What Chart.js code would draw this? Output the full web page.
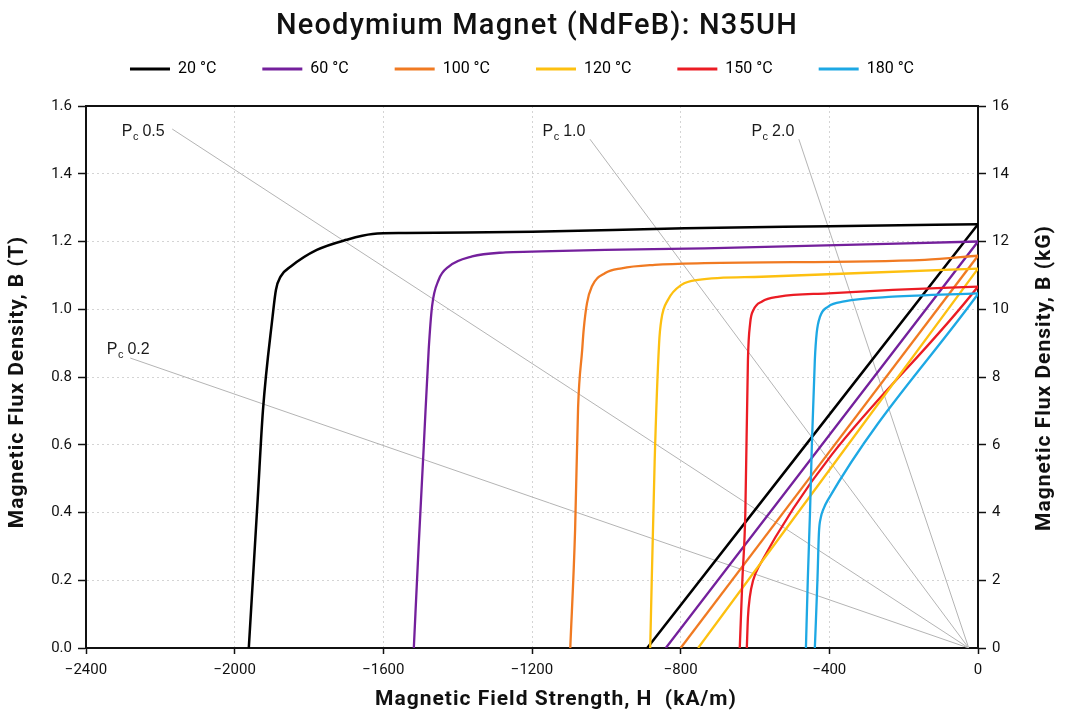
<!DOCTYPE html>
<html>
<head>
<meta charset="utf-8">
<script src="https://cdn.jsdelivr.net/npm/chart.js@4.4.0/dist/chart.umd.min.js"></script>
<style>
  html, body { margin: 0; padding: 0; background: #fff; }
  #wrap { position: relative; width: 1074px; height: 719px; }
</style>
</head>
<body>
<div id="wrap"><canvas id="chart"></canvas></div>
<script>
// N35UH demagnetization curves
// H in kA/m, B in T, points as [H, B]
const temps = ['20 °C', '60 °C', '100 °C', '120 °C', '150 °C', '180 °C'];
const colors = ['#000000', '#74209c', '#f07a22', '#fdc010', '#eb1c24', '#1da8e4'];

// intrinsic curves (flat top, sharp knee)
const j20 = [[0, 1.251], [-400, 1.245], [-789, 1.239], [-1200, 1.229], [-1540, 1.225], [-1629, 1.222], [-1699, 1.205], [-1779, 1.175], [-1849, 1.126], [-1876, 1.097], [-1889, 1.057], [-1898, 0.978], [-1924, 0.70], [-1938, 0.44], [-1962, 0]];
const j60 = [[0, 1.2], [-736, 1.18], [-1003, 1.175], [-1200, 1.17], [-1271, 1.168], [-1361, 1.156], [-1424, 1.126], [-1451, 1.087], [-1469, 1.008], [-1478, 0.88], [-1491, 0.6], [-1505, 0.3], [-1518, 0]];
const j100 = [[0, 1.158], [-143, 1.146], [-736, 1.136], [-870, 1.131], [-959, 1.121], [-1003, 1.107], [-1039, 1.067], [-1052, 1.018], [-1061, 0.939], [-1065, 0.88], [-1076, 0.71], [-1084, 0.35], [-1097, 0]];
const j120 = [[0, 1.12], [-315, 1.107], [-582, 1.096], [-753, 1.087], [-798, 1.072], [-834, 1.028], [-852, 0.969], [-858, 0.9], [-870, 0.55], [-882, 0]];
const j150 = [[0, 1.067], [-229, 1.057], [-403, 1.047], [-535, 1.037], [-581, 1.023], [-604, 0.998], [-613, 0.959], [-619, 0.851], [-626, 0.4], [-634, 0.2], [-641, 0]];
const j180 = [[0, 1.047], [-229, 1.037], [-360, 1.023], [-403, 1.008], [-425, 0.978], [-434, 0.93], [-439, 0.85], [-447, 0.6], [-452, 0.4], [-458, 0.2], [-463, 0]];

// normal curves (straight recoil lines)
const b20 = [[0, 1.251], [-890, 0]];
const b60 = [[0, 1.2], [-840, 0]];
const b100 = [[0, 1.158], [-800, 0]];
const b120 = [[0, 1.12], [-753, 0]];
const b150 = [[0, 1.067], [-590, 0.24], [-605, 0.2], [-614, 0.15], [-619, 0.09], [-622, 0]];
const b180 = [[0, 1.045], [-405, 0.435], [-416, 0.41], [-423, 0.385], [-428, 0.34], [-432, 0.2], [-439, 0]];

// permeance coefficient load lines
const pcValues = ['0.2', '0.5', '1.0', '2.0'];
const pcStart = [[-2281, 0.856], [-2168, 1.532], [-1044, 1.502], [-482, 1.502]];
const pcOrigin = [-25, 0];

// axis ticks
const hTicks = [-2400, -2000, -1600, -1200, -800, -400, 0];
const bTicks = [0, 0.2, 0.4, 0.6, 0.8, 1.0, 1.2, 1.4, 1.6];
const kgTicks = [0, 2, 4, 6, 8, 10, 12, 14, 16];

const intrinsic = [j20, j60, j100, j120, j150, j180];
const normal = [b20, b60, b100, b120, b150, b180];

const toXY = pts => pts.map(p => ({ x: p[0], y: p[1] }));

const datasets = [];
intrinsic.forEach((pts, i) => {
  datasets.push({
    label: temps[i],
    data: toXY(pts),
    borderColor: colors[i],
    backgroundColor: colors[i],
    borderWidth: i === 0 ? 2.5 : 2.3,
    cubicInterpolationMode: 'monotone',
    order: 1
  });
});
normal.forEach((pts, i) => {
  datasets.push({
    label: temps[i] + ' B',
    data: toXY(pts),
    borderColor: colors[i],
    backgroundColor: colors[i],
    borderWidth: i === 0 ? 2.5 : 2.3,
    cubicInterpolationMode: 'monotone',
    order: 1
  });
});
pcStart.forEach((p, i) => {
  datasets.push({
    label: 'Pc ' + pcValues[i],
    data: toXY([p, pcOrigin]),
    borderColor: '#b4b4b4',
    borderWidth: 1,
    order: 5
  });
});

// label centre relative to the start of each load line, px
const pcLabelOffset = [[-2, -10], [-29, 1], [-26, -9], [-26, -9]];

const textLayer = {
  id: 'textLayer',
  afterDatasetsDraw(chart) {
    const { ctx, scales: { x, y } } = chart;
    ctx.save();
    ctx.fillStyle = '#1a1a1a';
    ctx.textBaseline = 'alphabetic';
    ctx.textAlign = 'left';
    pcStart.forEach((p, i) => {
      const cx = x.getPixelForValue(p[0]) + pcLabelOffset[i][0];
      const cy = y.getPixelForValue(p[1]) + pcLabelOffset[i][1];
      const rest = ' ' + pcValues[i];
      ctx.font = '16px "Liberation Sans"';
      const wP = ctx.measureText('P').width;
      const wR = ctx.measureText(rest).width;
      ctx.font = '11px "Liberation Sans"';
      const wc = ctx.measureText('c').width;
      const left = cx - (wP + wc + wR) / 2;
      ctx.font = '16px "Liberation Sans"';
      ctx.fillText('P', left, cy + 6);
      ctx.font = '11px "Liberation Sans"';
      ctx.fillText('c', left + wP + 0.5, cy + 9.5);
      ctx.font = '16px "Liberation Sans"';
      ctx.fillText(rest, left + wP + wc, cy + 6);
    });
    ctx.restore();
  },
  afterDraw(chart) {
    const { ctx } = chart;
    ctx.save();
    ctx.fillStyle = '#111';
    ctx.textAlign = 'center';
    ctx.textBaseline = 'middle';
    ctx.letterSpacing = '1.2px';
    ctx.font = '500 29px Roboto';
    ctx.fillText('Neodymium Magnet (NdFeB): N35UH', 537, 27);

    ctx.letterSpacing = '1px';
    ctx.font = 'bold 21px Roboto';
    ctx.fillText('Magnetic Field Strength, H  (kA/m)', 556, 700);

    ctx.translate(18, 382);
    ctx.rotate(-Math.PI / 2);
    ctx.fillText('Magnetic Flux Density, B (T)', 0, 0);
    ctx.restore();

    ctx.save();
    ctx.fillStyle = '#111';
    ctx.textAlign = 'center';
    ctx.textBaseline = 'middle';
    ctx.letterSpacing = '1px';
    ctx.font = 'bold 21px Roboto';
    ctx.translate(1045, 378);
    ctx.rotate(-Math.PI / 2);
    ctx.fillText('Magnetic Flux Density, B (kG)', 0, 0);
    ctx.restore();
  }
};

const tickFont = { family: 'Roboto', size: 15 };

new Chart(document.getElementById('chart'), {
  type: 'scatter',
  data: { datasets },
  options: {
    responsive: true,
    maintainAspectRatio: false,
    animation: false,
    layout: { padding: { top: 15, left: 0, right: 30, bottom: 0 } },
    elements: { point: { radius: 0, hoverRadius: 0 }, line: { tension: 0 } },
    showLine: true,
    plugins: {
      title: { display: false },
      tooltip: { enabled: false },
      legend: {
        position: 'top',
        labels: {
          boxWidth: 40,
          boxHeight: 3,
          padding: 46,
          color: '#111',
          font: { family: 'Roboto', size: 16 },
          generateLabels: () => temps.map((t, i) => ({
            text: t,
            fillStyle: colors[i],
            strokeStyle: colors[i],
            lineWidth: 0,
            hidden: false,
            datasetIndex: i
          }))
        }
      }
    },
    scales: {
      x: {
        type: 'linear',
        position: 'bottom',
        min: -2400,
        max: 0,
        afterBuildTicks: s => { s.ticks = hTicks.map(v => ({ value: v })); },
        afterFit: s => { s.height = 71; },
        ticks: {
          font: tickFont,
          color: '#111',
          padding: 7,
          maxRotation: 0,
          callback: v => (v < 0 ? '\u2212' + Math.abs(v) : String(v))
        },
        grid: { color: '#d4d4d4', tickColor: '#111', tickLength: 6, tickWidth: 1.5 },
        border: { color: '#111', width: 2, dash: [2, 3] }
      },
      x2: {
        type: 'linear',
        position: 'top',
        min: -2400,
        max: 0,
        afterFit: s => { s.height = 19; },
        ticks: { display: false },
        grid: { display: false },
        border: { display: true, color: '#111', width: 2 }
      },
      y: {
        type: 'linear',
        position: 'left',
        min: 0,
        max: 1.6,
        afterBuildTicks: s => { s.ticks = bTicks.map(v => ({ value: v })); },
        afterFit: s => { s.width = 86; },
        ticks: {
          font: tickFont,
          color: '#111',
          padding: 6,
          callback: v => Number(v).toFixed(1)
        },
        grid: { color: '#d4d4d4', tickColor: '#111', tickLength: 8, tickWidth: 1.5 },
        border: { color: '#111', width: 2, dash: [2, 3] }
      },
      y2: {
        type: 'linear',
        position: 'right',
        min: 0,
        max: 16,
        afterBuildTicks: s => { s.ticks = kgTicks.map(v => ({ value: v })); },
        afterFit: s => { s.width = 66; },
        ticks: {
          font: tickFont,
          color: '#111',
          padding: 6,
          callback: v => String(v)
        },
        grid: { drawOnChartArea: false, tickColor: '#111', tickLength: 8, tickWidth: 1.5 },
        border: { color: '#111', width: 2 }
      }
    }
  },
  plugins: [textLayer]
});
</script>
</body>
</html>
